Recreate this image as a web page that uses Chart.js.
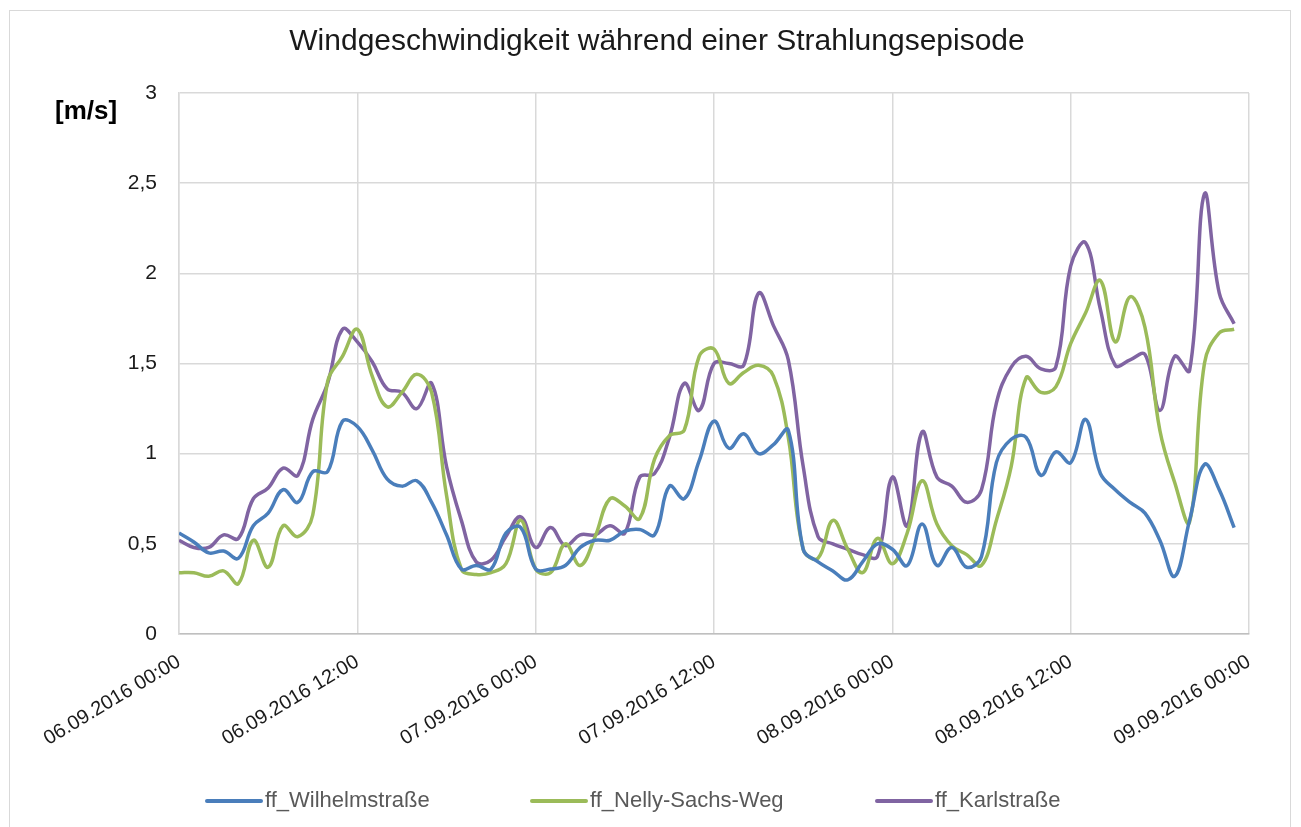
<!DOCTYPE html>
<html lang="de">
<head>
<meta charset="UTF-8">
<title>Windgeschwindigkeit während einer Strahlungsepisode</title>
<script src="https://cdn.jsdelivr.net/npm/chart.js"></script>
<style>
    body { margin: 0; background: #fff; }
    #wrap { width: 1301px; height: 827px; }
</style>
</head>
<body>
<div id="wrap"><canvas id="windChart" width="1301" height="827"></canvas></div>
<script>
    // x tick labels, one every 12 hours
    const xTickLabels = ['06.09.2016 00:00', '06.09.2016 12:00', '07.09.2016 00:00', '07.09.2016 12:00',
                         '08.09.2016 00:00', '08.09.2016 12:00', '09.09.2016 00:00'];

    const seriesNames = ['ff_Wilhelmstraße', 'ff_Nelly-Sachs-Weg', 'ff_Karlstraße'];

    // hourly values [m/s], starting 06.09.2016 00:00
    const wilhelmstrasse = [
        0.56, 0.51, 0.45, 0.46, 0.42, 0.60, 0.67, 0.80, 0.73, 0.90,
        0.90, 1.18, 1.15, 1.02, 0.86, 0.82, 0.85, 0.73, 0.55, 0.36,
        0.38, 0.36, 0.56, 0.59, 0.36, 0.36, 0.38, 0.48, 0.52, 0.52,
        0.57, 0.58, 0.55, 0.82, 0.75, 0.96, 1.18, 1.03, 1.11, 1.00,
        1.05, 1.13, 0.47, 0.40, 0.35, 0.30, 0.40, 0.50, 0.47, 0.38,
        0.61, 0.38, 0.48, 0.37, 0.43, 0.95, 1.08, 1.09, 0.88, 1.01,
        0.95, 1.19, 0.89, 0.80, 0.73, 0.67, 0.52, 0.32, 0.63, 0.94,
        0.80, 0.59
    ];
    const nellySachsWeg = [
        0.34, 0.34, 0.32, 0.35, 0.28, 0.52, 0.37, 0.60, 0.54, 0.66,
        1.40, 1.54, 1.69, 1.43, 1.26, 1.34, 1.44, 1.34, 0.77, 0.36,
        0.33, 0.34, 0.39, 0.63, 0.36, 0.34, 0.50, 0.38, 0.54, 0.75,
        0.71, 0.64, 0.97, 1.10, 1.13, 1.54, 1.58, 1.39, 1.45, 1.49,
        1.43, 1.09, 0.47, 0.42, 0.63, 0.47, 0.34, 0.53, 0.39, 0.56,
        0.85, 0.61, 0.49, 0.44, 0.38, 0.63, 0.93, 1.42, 1.34, 1.37,
        1.61, 1.78, 1.96, 1.62, 1.87, 1.70, 1.13, 0.84, 0.62, 1.50,
        1.67, 1.69
    ];
    const karlstrasse = [
        0.52, 0.48, 0.48, 0.55, 0.53, 0.75, 0.81, 0.92, 0.88, 1.19,
        1.39, 1.69, 1.62, 1.51, 1.36, 1.34, 1.25, 1.39, 0.93, 0.63,
        0.40, 0.41, 0.54, 0.65, 0.48, 0.59, 0.49, 0.55, 0.55, 0.60,
        0.56, 0.87, 0.89, 1.09, 1.39, 1.24, 1.50, 1.50, 1.49, 1.89,
        1.71, 1.52, 0.93, 0.54, 0.50, 0.47, 0.44, 0.43, 0.87, 0.60,
        1.12, 0.87, 0.82, 0.73, 0.80, 1.28, 1.48, 1.54, 1.47, 1.48,
        2.04, 2.17, 1.80, 1.49, 1.52, 1.55, 1.24, 1.54, 1.46, 2.44,
        1.89, 1.72
    ];

    const colors = ['#4a7ebb', '#9bbb59', '#8064a2'];
    const FONT = 'Liberation Sans, Arial, sans-serif';

    function toPoints(values) {
        return values.map((v, i) => ({ x: i, y: v }));
    }

    // frame, y unit label and the spread-out legend at the bottom
    const extras = {
        id: 'extras',
        beforeDraw(chart) {
            const ctx = chart.ctx;
            ctx.save();
            ctx.fillStyle = '#fff';
            ctx.fillRect(0, 0, chart.width, chart.height);
            ctx.strokeStyle = '#d9d9d9';
            ctx.lineWidth = 1;
            ctx.strokeRect(9.5, 10.5, 1281, 830);
            ctx.restore();
        },
        afterDraw(chart) {
            const ctx = chart.ctx;
            ctx.save();
            ctx.font = 'bold 26px ' + FONT;
            ctx.fillStyle = '#000';
            ctx.textAlign = 'left';
            ctx.textBaseline = 'middle';
            ctx.fillText('[m/s]', 55, 112);

            // legend: line sample then name
            const startX = [207, 532, 877];
            const y = 801;
            ctx.font = '22px ' + FONT;
            ctx.fillStyle = '#595959';
            chart.data.datasets.forEach((ds, i) => {
                ctx.strokeStyle = ds.borderColor;
                ctx.lineWidth = 4;
                ctx.lineCap = 'round';
                ctx.beginPath();
                ctx.moveTo(startX[i], y);
                ctx.lineTo(startX[i] + 54, y);
                ctx.stroke();
                ctx.fillText(ds.label, startX[i] + 58, y);
            });
            ctx.restore();
        }
    };

    Chart.defaults.font.family = FONT;
    Chart.defaults.color = '#1a1a1a';

    new Chart(document.getElementById('windChart'), {
        type: 'line',
        data: {
            datasets: [wilhelmstrasse, nellySachsWeg, karlstrasse].map((vals, i) => ({
                label: seriesNames[i],
                data: toPoints(vals),
                borderColor: colors[i],
                backgroundColor: colors[i],
                borderWidth: 3.5,
                pointRadius: 0,
                tension: 0.4,
                fill: false
            }))
        },
        options: {
            responsive: false,
            animation: false,
            layout: { padding: { left: 65, right: 52, top: 0, bottom: 0 } },
            plugins: {
                title: {
                    display: true,
                    text: 'Windgeschwindigkeit während einer Strahlungsepisode',
                    color: '#1a1a1a',
                    font: { size: 30, weight: 'normal' },
                    padding: { top: 24, bottom: 33 }
                },
                legend: { display: false },
                tooltip: { enabled: false }
            },
            scales: {
                x: {
                    type: 'linear',
                    min: 0,
                    max: 72,
                    grid: { color: '#d9d9d9', lineWidth: 1.5, drawTicks: false },
                    border: { color: '#bfbfbf', width: 1.5 },
                    ticks: {
                        stepSize: 12,
                        autoSkip: false,
                        maxRotation: 31,
                        minRotation: 31,
                        padding: 16,
                        font: { size: 20 },
                        callback: v => xTickLabels[v / 12]
                    },
                    afterFit(scale) {
                        scale.height = 827 - 634;
                    }
                },
                y: {
                    min: 0,
                    max: 3,
                    grid: { color: '#d9d9d9', lineWidth: 1.5, drawTicks: false },
                    border: { color: '#d9d9d9', width: 1.5 },
                    ticks: {
                        stepSize: 0.5,
                        padding: 22,
                        font: { size: 21 },
                        callback: v => String(v).replace('.', ',')
                    },
                    afterFit(scale) {
                        scale.width = 179 - 65;
                    }
                }
            }
        },
        plugins: [extras]
    });
</script>
</body>
</html>
